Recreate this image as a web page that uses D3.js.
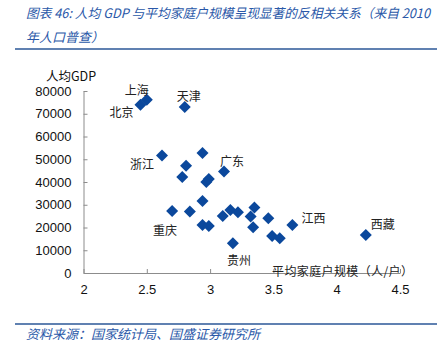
<!DOCTYPE html>
<html><head><meta charset="utf-8">
<script src="https://cdn.jsdelivr.net/npm/d3@7"></script>
<style>
body{margin:0;background:#fff;}
svg{display:block;}
</style></head>
<body>
<svg id="chart" width="446" height="350"></svg>
<script>
// ---- data ----
const householdSize = [2.45, 2.50, 2.80, 2.62, 2.94, 2.81, 2.78, 2.97, 2.99, 3.11, 2.94, 2.70, 2.84, 2.94, 2.99, 3.10, 3.16, 3.22, 3.35, 3.32, 3.34, 3.46, 3.49, 3.55, 3.65, 3.18, 4.23];
const gdpPerCapita  = [74000, 76200, 73000, 51700, 52700, 47100, 42200, 40000, 41300, 44600, 31700, 27300, 27000, 21100, 20700, 25100, 27700, 26700, 28800, 24800, 20100, 24100, 16300, 15300, 21100, 13100, 16700];
const labelNames   = ["北京", "上海", "天津", "浙江", "广东", "重庆", "贵州", "江西", "西藏"];
const labelIndex   = [0, 1, 2, 3, 9, 11, 25, 24, 26];
const xTicks = [2, 2.5, 3, 3.5, 4, 4.5];
const yTicks = [0, 10000, 20000, 30000, 40000, 50000, 60000, 70000, 80000];
const titleLines = ["图表 46: 人均 GDP 与平均家庭户规模呈现显著的反相关关系（来自 2010", "年人口普查）"];
const sourceText = "资料来源：国家统计局、国盛证券研究所";
const xTitle = "平均家庭户规模（人/户）";
const yTitle = "人均GDP";

// ---- layout ----
const labelOffsets = [[-31, 7], [-22, -10], [-8, -11], [-32, 8], [-4, -11], [-19, 19], [-6, 16], [9, -7], [5, -12]];
const titleWidths = [404, null];
const svg = d3.select("#chart");
const blue = "#0b489c";
const titleBlue = "#2a58a8";
const cjk = "'Noto Sans CJK SC', sans-serif";
const latin = "'Liberation Sans', Arial, sans-serif";

const x = d3.scaleLinear().domain([2, 4.5]).range([83.5, 400]);
const y = d3.scaleLinear().domain([0, 80000]).range([273, 91]);

// title
svg.selectAll("text.title").data(titleLines).enter().append("text")
  .attr("class", "title")
  .attr("x", 26).attr("y", (d, i) => 12 + i * 24)
  .attr("dominant-baseline", "central")
  .each(function(d, i) {
    if (titleWidths[i]) d3.select(this).attr("textLength", titleWidths[i]).attr("lengthAdjust", "spacingAndGlyphs");
  })
  .style("font-family", cjk).style("font-size", "13px").style("font-style", "italic")
  .attr("fill", titleBlue).text(d => d);
svg.append("line").attr("x1", 15).attr("x2", 437).attr("y1", 49).attr("y2", 49)
  .attr("stroke", "#2b5797").attr("stroke-width", 1.5);

// axes
const yAxis = d3.axisLeft(y).tickValues(yTicks).tickFormat(d3.format("d"))
  .tickSizeInner(-4).tickSizeOuter(0).tickPadding(12);
const gy = svg.append("g").attr("transform", "translate(83.5,0)").call(yAxis);
const xAxis = d3.axisBottom(x).tickValues(xTicks).tickFormat(d => d)
  .tickSizeInner(-4).tickSizeOuter(0).tickPadding(12);
const gx = svg.append("g").attr("transform", "translate(0,273)").call(xAxis);
[gx, gy].forEach(g => {
  g.select(".domain").attr("stroke", "#8c8c8c");
  g.selectAll(".tick line").attr("stroke", "#8c8c8c");
  g.selectAll(".tick text").style("font-family", latin).style("font-size", "13px").attr("fill", "#111");
});

// axis titles
svg.append("text").attr("x", 71).attr("y", 75).attr("text-anchor", "middle")
  .attr("dominant-baseline", "central")
  .style("font-family", cjk).style("font-size", "12.5px").attr("fill", "#111").text(yTitle);
svg.append("text").attr("x", 272).attr("y", 270)
  .attr("dominant-baseline", "central")
  .attr("textLength", 141).attr("lengthAdjust", "spacing")
  .style("font-family", cjk).style("font-size", "12px").attr("fill", "#222").text(xTitle);

// points
const pts = householdSize.map((h, i) => ({h, g: gdpPerCapita[i]}));
svg.append("g").selectAll("path").data(pts).enter().append("path")
  .attr("d", d3.symbol().type(d3.symbolSquare).size(72))
  .attr("transform", d => `translate(${x(d.h)},${y(d.g)}) rotate(45)`)
  .attr("fill", blue);

// labels
svg.append("g").selectAll("text").data(labelNames).enter().append("text")
  .attr("x", (d, i) => x(householdSize[labelIndex[i]]) + labelOffsets[i][0])
  .attr("y", (d, i) => y(gdpPerCapita[labelIndex[i]]) + labelOffsets[i][1])
  .attr("dominant-baseline", "central")
  .style("font-family", cjk).style("font-size", "12px").attr("fill", "#222")
  .text(d => d);

// footer
svg.append("line").attr("x1", 15).attr("x2", 437).attr("y1", 324).attr("y2", 324)
  .attr("stroke", "#2b5797").attr("stroke-width", 1.5);
svg.append("text").attr("x", 26).attr("y", 333).attr("dominant-baseline", "central")
  .style("font-family", cjk).style("font-size", "13px").style("font-style", "italic")
  .attr("fill", titleBlue).text(sourceText);
</script>
</body></html>
